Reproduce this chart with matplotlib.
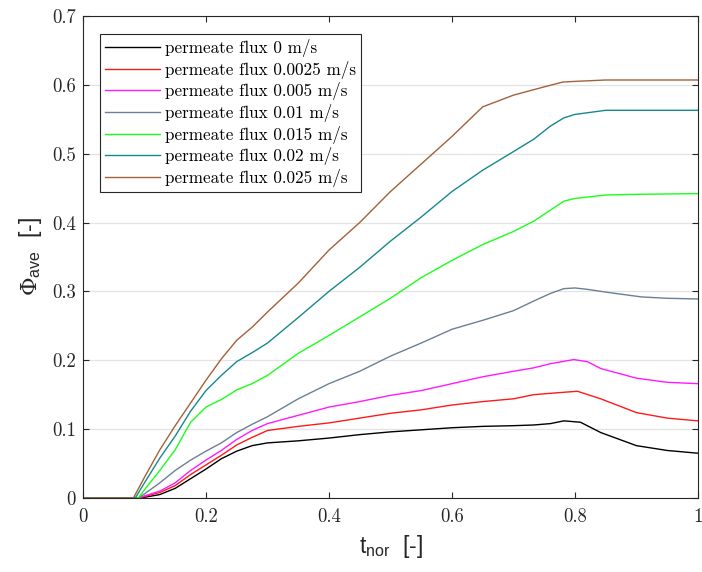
import numpy as np
import matplotlib
matplotlib.use("Agg")
import matplotlib.pyplot as plt

plt.rcParams['mathtext.fontset'] = 'custom'
plt.rcParams['mathtext.rm'] = 'DejaVu Serif'
plt.rcParams['mathtext.sf'] = 'Liberation Sans'
plt.rcParams['axes.formatter.use_mathtext'] = True

# normalised time and average Phi for each permeate flux
t_0 = [0, 0.09, 0.1, 0.125, 0.15, 0.175, 0.2, 0.225, 0.25, 0.275, 0.3, 0.35, 0.4, 0.45, 0.5,
       0.55, 0.6, 0.65, 0.7, 0.733, 0.76, 0.782, 0.809, 0.842, 0.9, 0.95, 1.0]
phi_0 = [0, 0, 0.001, 0.005, 0.014, 0.028, 0.042, 0.057, 0.068, 0.076, 0.080, 0.083, 0.087, 0.092, 0.096,
         0.099, 0.102, 0.104, 0.105, 0.106, 0.108, 0.112, 0.110, 0.095, 0.076, 0.069, 0.065]

t_0025 = [0, 0.09, 0.1, 0.125, 0.15, 0.175, 0.2, 0.225, 0.25, 0.275, 0.3, 0.35, 0.4, 0.45, 0.5,
          0.55, 0.6, 0.65, 0.7, 0.733, 0.76, 0.804, 0.842, 0.9, 0.95, 1.0]
phi_0025 = [0, 0, 0.002, 0.008, 0.018, 0.034, 0.048, 0.062, 0.077, 0.088, 0.098, 0.104, 0.109, 0.116, 0.123,
            0.128, 0.135, 0.140, 0.144, 0.150, 0.152, 0.155, 0.144, 0.124, 0.116, 0.112]

t_005 = [0, 0.09, 0.1, 0.125, 0.15, 0.175, 0.2, 0.225, 0.25, 0.275, 0.3, 0.35, 0.4, 0.45, 0.5,
         0.55, 0.6, 0.65, 0.7, 0.733, 0.76, 0.798, 0.82, 0.842, 0.9, 0.95, 1.0]
phi_005 = [0, 0, 0.003, 0.010, 0.022, 0.040, 0.055, 0.069, 0.085, 0.098, 0.108, 0.120, 0.132, 0.140, 0.149,
           0.156, 0.166, 0.176, 0.184, 0.189, 0.195, 0.201, 0.198, 0.188, 0.174, 0.168, 0.166]

t_01 = [0, 0.09, 0.1, 0.125, 0.15, 0.175, 0.2, 0.225, 0.25, 0.275, 0.3, 0.35, 0.4, 0.45, 0.5,
        0.55, 0.6, 0.65, 0.7, 0.733, 0.76, 0.782, 0.8, 0.82, 0.858, 0.908, 0.95, 1.0]
phi_01 = [0, 0, 0.006, 0.022, 0.040, 0.055, 0.068, 0.080, 0.095, 0.107, 0.118, 0.144, 0.166, 0.184, 0.206,
          0.225, 0.245, 0.258, 0.272, 0.286, 0.297, 0.304, 0.305, 0.303, 0.298, 0.292, 0.290, 0.289]

t_015 = [0, 0.09, 0.1, 0.125, 0.15, 0.175, 0.2, 0.225, 0.25, 0.275, 0.3, 0.35, 0.4, 0.45, 0.5,
         0.55, 0.6, 0.65, 0.7, 0.733, 0.76, 0.782, 0.8, 0.85, 0.9, 1.0]
phi_015 = [0, 0, 0.012, 0.040, 0.070, 0.110, 0.132, 0.143, 0.157, 0.166, 0.178, 0.210, 0.236, 0.263, 0.290,
           0.320, 0.345, 0.368, 0.387, 0.402, 0.418, 0.431, 0.435, 0.440, 0.441, 0.442]

t_02 = [0, 0.085, 0.1, 0.125, 0.15, 0.175, 0.2, 0.225, 0.25, 0.275, 0.3, 0.35, 0.4, 0.45, 0.5,
        0.55, 0.6, 0.65, 0.7, 0.733, 0.76, 0.782, 0.8, 0.85, 0.9, 1.0]
phi_02 = [0, 0, 0.022, 0.058, 0.090, 0.126, 0.156, 0.178, 0.198, 0.211, 0.225, 0.262, 0.300, 0.335, 0.373,
          0.408, 0.445, 0.476, 0.503, 0.521, 0.540, 0.552, 0.557, 0.563, 0.563, 0.563]

t_025 = [0, 0.082, 0.1, 0.125, 0.15, 0.175, 0.2, 0.225, 0.25, 0.275, 0.3, 0.35, 0.4, 0.45, 0.5,
         0.55, 0.6, 0.65, 0.7, 0.75, 0.78, 0.8, 0.85, 0.9, 1.0]
phi_025 = [0, 0, 0.030, 0.070, 0.105, 0.138, 0.171, 0.202, 0.229, 0.248, 0.270, 0.312, 0.360, 0.400, 0.445,
           0.485, 0.525, 0.568, 0.585, 0.597, 0.604, 0.605, 0.607, 0.607, 0.607]

labels = ['permeate flux 0 m/s', 'permeate flux 0.0025 m/s', 'permeate flux 0.005 m/s',
          'permeate flux 0.01 m/s', 'permeate flux 0.015 m/s', 'permeate flux 0.02 m/s',
          'permeate flux 0.025 m/s']
colors = ['#000000', '#ff1a1a', '#ff1aff', '#6b7f95', '#1aff1a', '#16898c', '#a3613a']

series = [(t_0, phi_0), (t_0025, phi_0025), (t_005, phi_005), (t_01, phi_01),
          (t_015, phi_015), (t_02, phi_02), (t_025, phi_025)]

fig = plt.figure(figsize=(7.02, 5.72), dpi=100)
ax = fig.add_axes([0.1182, 0.1294, 0.876, 0.8427])

for (t, phi), lab, c in zip(series, labels, colors):
    ax.plot(t, phi, color=c, lw=1.0, label=lab)

ax.set_xlim(0, 1)
ax.set_ylim(0, 0.7)
ax.set_xticks([0, 0.2, 0.4, 0.6, 0.8, 1])
ax.set_xticklabels(['0', '0.2', '0.4', '0.6', '0.8', '1'])
ax.set_yticks([0, 0.1, 0.2, 0.3, 0.4, 0.5, 0.6, 0.7])
ax.set_yticklabels(['0', '0.1', '0.2', '0.3', '0.4', '0.5', '0.6', '0.7'])
for lbl in ax.get_xticklabels() + ax.get_yticklabels():
    lbl.set_fontfamily('cmr10')
    lbl.set_fontsize(13.5)
    lbl.set_color('#262626')

ax.yaxis.grid(True, color='#e3e3e3', lw=0.9)
ax.set_axisbelow(True)
ax.tick_params(direction='in', top=True, right=True, length=4, width=0.8, color='#262626')
ax.tick_params(axis='x', pad=7)
ax.tick_params(axis='y', pad=5)
for sp in ax.spines.values():
    sp.set_color('#262626')
    sp.set_linewidth(0.8)

ax.set_xlabel(r'$\mathsf{t}_{\mathsf{nor}}$  [-]', fontfamily='Liberation Sans', fontsize=16.5,
              color='#262626', labelpad=5)
ax.set_ylabel(r'$\Phi_{\mathsf{ave}}$  [-]', fontfamily='Liberation Sans', fontsize=16.5,
              color='#262626', labelpad=6)

leg = ax.legend(loc='upper left', bbox_to_anchor=(0.028, 0.963), prop={'family': 'cmr10', 'size': 12.3},
                fancybox=False, framealpha=1, edgecolor='#262626', handlelength=3.2,
                handletextpad=0.3, labelspacing=0.215, borderpad=0.3, borderaxespad=0)
leg.get_frame().set_linewidth(0.8)

fig.savefig('out.png', dpi=100)
